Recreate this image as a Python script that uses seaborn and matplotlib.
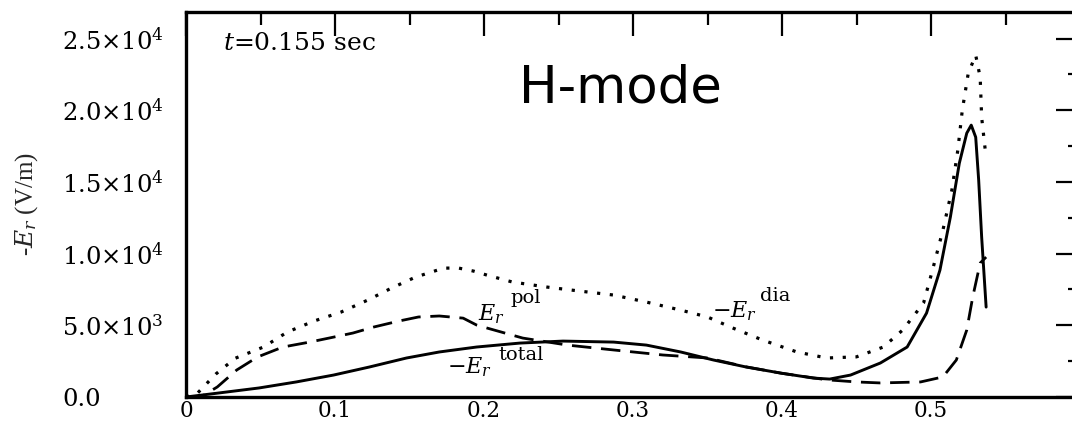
import numpy as np
import pandas as pd
import matplotlib
matplotlib.use("Agg")
import matplotlib.pyplot as plt
import seaborn as sns
from matplotlib.ticker import MultipleLocator, FixedLocator

# ---- data ----
x_total = [0.0, 0.022, 0.049, 0.074, 0.099, 0.123, 0.148, 0.170, 0.195, 0.224, 0.253, 0.287,
           0.309, 0.332, 0.354, 0.376, 0.399, 0.421, 0.432, 0.446, 0.466, 0.484, 0.497, 0.506,
           0.513, 0.519, 0.524, 0.527, 0.530, 0.532, 0.534, 0.537]
e_total = [0, 280, 630, 1050, 1530, 2090, 2720, 3140, 3485, 3760, 3900, 3830,
           3620, 3140, 2580, 2090, 1670, 1320, 1250, 1530, 2370, 3485, 5850, 8850,
           12550, 16300, 18400, 18960, 18120, 15120, 11150, 6270]

x_dia = [0.0, 0.008, 0.020, 0.033, 0.052, 0.068, 0.086, 0.104, 0.122, 0.138, 0.154, 0.173,
         0.183, 0.193, 0.202, 0.219, 0.242, 0.264, 0.287, 0.309, 0.332, 0.350, 0.367, 0.387,
         0.410, 0.430, 0.450, 0.468, 0.481, 0.495, 0.501, 0.508, 0.514, 0.518, 0.521, 0.525,
         0.530, 0.533, 0.534, 0.537]
e_dia = [0, 300, 1600, 2700, 3485, 4530, 5300, 5920, 6760, 7600, 8360, 8990,
         8990, 8780, 8500, 8020, 7670, 7390, 7110, 6620, 6060, 5580, 4810, 3970,
         3140, 2720, 2800, 3485, 4670, 6550, 8850, 11640, 14430, 17220, 20000, 22580,
         23840, 22300, 19500, 16660]

x_pol = [0.0, 0.010, 0.021, 0.034, 0.048, 0.065, 0.083, 0.096, 0.112, 0.126, 0.143, 0.156,
         0.170, 0.186, 0.195, 0.202, 0.226, 0.256, 0.287, 0.320, 0.350, 0.376, 0.400, 0.430,
         0.450, 0.466, 0.493, 0.508, 0.517, 0.524, 0.528, 0.533, 0.537]
e_pol = [0, 0, 700, 1880, 2790, 3485, 3830, 4110, 4460, 4880, 5300, 5580,
         5650, 5500, 5020, 4810, 4110, 3620, 3280, 2930, 2720, 2100, 1650, 1200,
         1050, 980, 1050, 1400, 2580, 4670, 6970, 9340, 9760]

y_ticks = [0, 5000, 10000, 15000, 20000, 25000]
y_tick_labels = ["0.0", r"5.0×10$^{3}$", r"1.0×10$^{4}$", r"1.5×10$^{4}$",
                 r"2.0×10$^{4}$", r"2.5×10$^{4}$"]
x_ticks = [0, 0.1, 0.2, 0.3, 0.4, 0.5, 0.6]
x_tick_labels = ["0", "0.1", "0.2", "0.3", "0.4", "0.5", ""]

df = pd.concat([
    pd.DataFrame({"x": x_total, "y": e_total, "s": "total"}),
    pd.DataFrame({"x": x_dia, "y": e_dia, "s": "dia"}),
    pd.DataFrame({"x": x_pol, "y": e_pol, "s": "pol"}),
])

sns.set_style("white")
plt.rcParams["font.family"] = ["DejaVu Serif"]
plt.rcParams["mathtext.fontset"] = "dejavuserif"
plt.rcParams["text.color"] = "black"

fig = plt.figure(figsize=(10.72, 4.26), dpi=100)
ax = fig.add_axes([186 / 1072, 29 / 426, 894 / 1072, 385 / 426])

dash_styles = {"total": "-", "dia": (0, (1, 3.0)), "pol": (0, (7, 3.5))}
widths = {"total": 2.1, "dia": 2.3, "pol": 2.0}
for s in ["total", "dia", "pol"]:
    sub = df[df["s"] == s]
    sns.lineplot(data=sub, x="x", y="y", ax=ax, color="black", sort=False,
                 linewidth=widths[s], estimator=None)
    ax.lines[-1].set_linestyle(dash_styles[s])

ax.set_xlim(0, 0.6)
ax.set_ylim(0, 26850)
ax.xaxis.set_major_locator(FixedLocator(x_ticks))
ax.xaxis.set_minor_locator(MultipleLocator(0.05))
ax.yaxis.set_major_locator(FixedLocator(y_ticks))
ax.yaxis.set_minor_locator(MultipleLocator(2500))
ax.set_xticklabels(x_tick_labels, fontsize=15.5)
ax.set_yticklabels(y_tick_labels, fontsize=17.5)
for lab in ax.get_yticklabels():
    lab.set_horizontalalignment("left")
ax.tick_params(which="both", direction="in", top=True, right=True, width=1.6,
               color="black", labelcolor="black")
ax.tick_params(which="major", length=17)
ax.tick_params(which="minor", length=9)
ax.tick_params(axis="x", pad=2)
ax.tick_params(axis="y", pad=89)
for sp in ax.spines.values():
    sp.set_linewidth(2.4)
    sp.set_color("black")

ax.set_xlabel("")
ax.set_ylabel(r"-$E_r$ (V/m)", fontsize=18, family="Liberation Serif")
ax.yaxis.set_label_coords(-146 / 894, 0.5)

ax.text(0.0248, 24190, r"$t$=0.155 sec", fontsize=18, va="baseline", ha="left")
ax.text(0.2913, 20560, "H-mode", fontsize=37, va="baseline", ha="center",
        family="DejaVu Sans", color="black")

labels = [
    (0.196, 5370, r"$E_r$", "pol", 23, 12),
    (0.353, 5576, r"$-E_r$", "dia", 34.5, 11.5),
    (0.175, 1673, r"$-E_r$", "total", 37, 9.5),
]
for lx, ly, main, sup, dx, dy in labels:
    ax.text(lx, ly, main, fontsize=16, va="baseline", ha="left")
    ax.annotate(sup, xy=(lx, ly), xytext=(dx, dy), textcoords="offset points",
                fontsize=14, va="baseline", ha="left")

fig.savefig("out.png", dpi=100)
